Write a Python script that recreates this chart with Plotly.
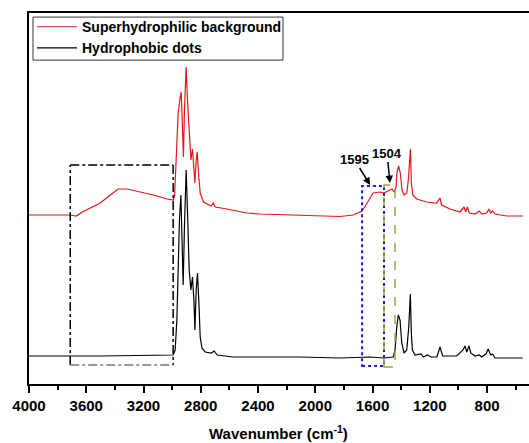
import plotly.graph_objects as go

# ---- data (wavenumber in cm-1, intensity in arbitrary units) ----
red_wn = [4000, 3851, 3712, 3670, 3628, 3572, 3502, 3432, 3377, 3314, 3223, 3132, 3035, 2993, 2983,
          2965, 2958, 2944, 2937, 2928, 2921, 2914, 2902, 2893, 2879, 2869, 2858, 2848, 2841, 2832,
          2825, 2816, 2804, 2781, 2746, 2727, 2713, 2699, 2618, 2478, 2385, 2106, 1827, 1736, 1673,
          1638, 1596, 1548, 1520, 1492, 1464, 1450, 1436, 1429, 1418, 1406, 1394, 1380, 1361, 1350,
          1342, 1335, 1329, 1319, 1291, 1222, 1152, 1129, 1117, 1059, 989, 961, 949, 938, 924,
          884, 854, 838, 803, 787, 775, 761, 745, 663, 549]
red_y = [169, 169, 169, 168, 172, 176, 181, 189, 195, 195, 192, 189, 185, 184, 188,
         241, 271, 287, 292, 257, 227, 274, 317, 284, 241, 224, 235, 217, 201, 224,
         232, 211, 191, 182, 179, 178, 181, 177, 175, 171, 170, 169, 167.5, 169, 173,
         181, 191, 192, 191, 193, 195, 192, 197, 212, 218, 211, 194, 189, 191, 204,
         221, 235, 201, 189, 185, 182, 181, 186, 179, 175, 172, 177, 172, 177, 171,
         170, 173, 170, 171, 175, 171, 173, 170, 168, 168]

black_wn = [4000, 3502, 2993, 2979, 2967, 2956, 2949, 2939, 2930, 2923, 2914, 2902, 2893, 2881, 2869,
            2858, 2848, 2841, 2832, 2823, 2813, 2804, 2792, 2769, 2727, 2706, 2685, 2574, 2106, 1827,
            1617, 1520, 1455, 1443, 1431, 1420, 1408, 1396, 1380, 1361, 1347, 1336, 1329, 1322, 1303,
            1261, 1245, 1217, 1191, 1150, 1129, 1110, 1059, 1012, 968, 954, 942, 926, 914, 884,
            854, 838, 808, 792, 775, 761, 745, 551]
black_y = [28, 28, 29, 34, 64, 124, 164, 189, 141, 99, 157, 214, 174, 114, 94,
           107, 84, 54, 94, 111, 81, 47, 36, 32, 31, 33, 29, 27, 27, 26,
           27, 26, 27, 34, 57, 69, 64, 41, 31, 34, 57, 90, 51, 34, 29,
           30, 27, 29, 27, 27, 37, 28, 28, 28, 34, 38, 32, 38, 31, 28,
           29, 27, 30, 35, 29, 30, 26, 26]

series_names = ["Superhydrophilic background", "Hydrophobic dots"]

# marked regions (wavenumber range, intensity range)
oh_box_wn = [3712, 2993]
oh_box_y = [19, 219]
blue_box_wn = [1673, 1520]
blue_box_y = [18, 198]
olive_box_wn = [1520, 1443]
olive_box_y = [17, 199]

# peak labels: text, arrow tip (wn, y)
peak_labels = ["1595", "1504"]
peak_tip_wn = [1617, 1478]
peak_tip_y = [199, 201]

x_range = [4000, 507]
y_range = [0, 371]

FONT = "Arial, Liberation Sans, sans-serif"

fig = go.Figure()
fig.add_trace(go.Scatter(x=red_wn, y=red_y, mode="lines", name=series_names[0],
                         line=dict(color="#e3161d", width=1.2)))
fig.add_trace(go.Scatter(x=black_wn, y=black_y, mode="lines", name=series_names[1],
                         line=dict(color="#000000", width=1.2)))

# dash-dot box (O-H region): black top/left/right, grey bottom
x0, x1 = oh_box_wn
y0, y1 = oh_box_y
for (xa, ya, xb, yb, col) in [(x0, y0, x0, y1, "black"), (x0, y1, x1, y1, "black"),
                              (x1, y1, x1, y0, "black"), (x0, y0, x1, y0, "#777777")]:
    fig.add_shape(type="line", x0=xa, y0=ya, x1=xb, y1=yb, xref="x", yref="y",
                  line=dict(color=col, width=1.5, dash="dashdot"))

fig.add_shape(type="rect", x0=blue_box_wn[0], x1=blue_box_wn[1], y0=blue_box_y[0], y1=blue_box_y[1],
              xref="x", yref="y", line=dict(color="#1a1acc", width=2, dash="dot"))
fig.add_shape(type="rect", x0=olive_box_wn[0], x1=olive_box_wn[1], y0=olive_box_y[0], y1=olive_box_y[1],
              xref="x", yref="y", line=dict(color="#a8a040", width=1.5, dash="dash"))

# legend frame
fig.add_shape(type="rect", xref="paper", yref="paper", x0=0.008, x1=0.508, y0=0.873, y1=0.989,
              line=dict(color="#333333", width=1), fillcolor="rgba(0,0,0,0)", layer="above")

# peak labels with arrows
label_offsets = [(-16, -26), (-3, -30)]
for lab, tx, ty, (ax, ay) in zip(peak_labels, peak_tip_wn, peak_tip_y, label_offsets):
    fig.add_annotation(x=tx, y=ty, xref="x", yref="y", text="<b>%s</b>" % lab, showarrow=True,
                       ax=ax, ay=ay, arrowhead=2, arrowsize=1, arrowwidth=1.5, arrowcolor="black",
                       standoff=0, font=dict(family=FONT, size=13, color="black"))

# x-axis title
fig.add_annotation(x=0.498, y=-0.132, xref="paper", yref="paper", showarrow=False,
                   xanchor="center", yanchor="middle",
                   text="<b>Wavenumber (cm<sup>-1</sup>)</b>",
                   font=dict(family=FONT, size=15, color="black"))

fig.update_xaxes(range=x_range, tickmode="linear", tick0=0, dtick=400, automargin=False,
                 ticks="outside", ticklen=7, tickwidth=1.5, tickcolor="black",
                 showline=True, linecolor="black", linewidth=1.5, mirror=True,
                 showgrid=False, zeroline=False,
                 tickfont=dict(family=FONT, size=15, color="black", weight="bold"),
                 minor=dict(tick0=0, dtick=200, ticks="outside", ticklen=4, tickwidth=1.5,
                            tickcolor="black", showgrid=False))
fig.update_yaxes(range=y_range, showline=True, linecolor="black", linewidth=1.5, automargin=False,
                 showticklabels=False, ticks="", showgrid=False, zeroline=False)

fig.update_layout(
    width=529, height=443,
    margin=dict(l=29, r=0, t=13, b=59),
    paper_bgcolor="white", plot_bgcolor="white",
    showlegend=True,
    legend=dict(x=0.006, y=1.005, xanchor="left", yanchor="top",
                bgcolor="rgba(0,0,0,0)", borderwidth=0,
                itemwidth=40,
                font=dict(family=FONT, size=14, color="black", weight="bold")),
)

fig.write_html("out.html", config={"displayModeBar": False},
               post_script="document.body.style.margin='0px';document.body.style.overflow='hidden';")
